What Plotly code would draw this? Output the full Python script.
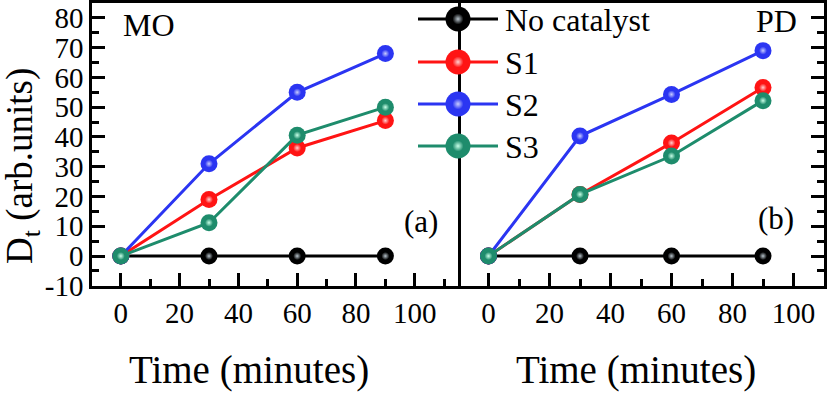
import plotly.graph_objects as go

# Data
time_min = [0, 30, 60, 90]
series_names = ["No catalyst", "S1", "S2", "S3"]
series_colors = ["#000000", "#FF1414", "#2B35F2", "#1E8C6C"]
highlight_colors = ["#B8C4CC", "#FFD0D0", "#C8CCFF", "#C8FFE8"]

mo_values = {
    "No catalyst": [0, 0, 0, 0],
    "S1": [0, 19, 36.3, 45.5],
    "S2": [0, 31, 55, 68],
    "S3": [0, 11.2, 40.6, 50],
}
pd_values = {
    "No catalyst": [0, 0, 0, 0],
    "S1": [0, 20.7, 38, 56.6],
    "S2": [0, 40.3, 54.3, 69],
    "S3": [0, 20.7, 33.6, 52.2],
}

y_tickvals = [-10, 0, 10, 20, 30, 40, 50, 60, 70, 80]
y_ticktext = ["-10", "0", "10", "20", "30", "40", "50", "60", "70", "80"]
x_tickvals = [0, 20, 40, 60, 80, 100]
x_ticktext = ["0", "20", "40", "60", "80", "100"]

FONT = "'Liberation Serif', 'Times New Roman', Times, serif"
W, H = 827, 394

fig = go.Figure()

def add_panel(values, xa, ya):
    for name, col, hl in zip(series_names, series_colors, highlight_colors):
        fig.add_trace(go.Scatter(
            x=time_min, y=values[name], xaxis=xa, yaxis=ya,
            mode="lines+markers", name=name, showlegend=False,
            line=dict(color=col, width=3),
            marker=dict(size=17, color=col, line=dict(width=0)),
            cliponaxis=False,
        ))
        # little glossy highlight on the spheres
        fig.add_trace(go.Scatter(
            x=time_min, y=values[name], xaxis=xa, yaxis=ya,
            mode="markers", showlegend=False, hoverinfo="skip",
            marker=dict(size=8, color=col, line=dict(width=0),
                        gradient=dict(type="radial", color=hl)),
            cliponaxis=False,
        ))

add_panel(mo_values, "x", "y")
add_panel(pd_values, "x2", "y2")

# hand-drawn legend on a pixel overlay (legend sits over the panel divider)
leg_y = [19, 62, 104, 146]
for name, col, hl, ly in zip(series_names, series_colors, highlight_colors, leg_y):
    fig.add_trace(go.Scatter(
        x=[418, 498], y=[ly, ly], xaxis="x3", yaxis="y3",
        mode="lines", line=dict(color=col, width=3),
        showlegend=False, hoverinfo="skip",
    ))
    fig.add_trace(go.Scatter(
        x=[458], y=[ly], xaxis="x3", yaxis="y3",
        mode="markers", showlegend=False, hoverinfo="skip",
        marker=dict(size=25, color=col, line=dict(width=0)),
    ))
    fig.add_trace(go.Scatter(
        x=[458], y=[ly], xaxis="x3", yaxis="y3",
        mode="markers", showlegend=False, hoverinfo="skip",
        marker=dict(size=11, color=col, line=dict(width=0),
                    gradient=dict(type="radial", color=hl)),
    ))

ydom = [1 - 285.8 / H, 1 - 3 / H]
tickfont = dict(family=FONT, size=29, color="black")

common_x = dict(
    tickmode="array", tickvals=x_tickvals, ticktext=x_ticktext,
    ticks="inside", ticklen=13, tickwidth=2.5, tickcolor="black",
    minor=dict(ticks="inside", ticklen=7, tickwidth=2.5, tickcolor="black",
               tickmode="linear", tick0=0, dtick=10),
    showline=True, linewidth=2.5, linecolor="black", mirror=True,
    showgrid=False, zeroline=False, tickfont=tickfont,
    ticklabelstandoff=0, automargin=False,
)
common_y = dict(
    range=[-10, 85], domain=ydom,
    tickmode="array", tickvals=y_tickvals, ticktext=y_ticktext,
    ticks="inside", ticklen=13, tickwidth=2.5, tickcolor="black",
    minor=dict(ticks="inside", ticklen=7, tickwidth=2.5, tickcolor="black",
               tickmode="linear", tick0=0, dtick=5),
    showline=True, linewidth=2.5, linecolor="black",
    showgrid=False, zeroline=False, tickfont=tickfont, automargin=False,
)

fig.update_layout(
    width=W, height=H,
    margin=dict(l=0, r=0, t=0, b=0, autoexpand=False),
    paper_bgcolor="white", plot_bgcolor="rgba(0,0,0,0)",
    showlegend=False,
    font=dict(family=FONT, color="black"),
    xaxis=dict(common_x, range=[-9.8, 114.7], domain=[92 / W, 458 / W], anchor="y"),
    yaxis=dict(common_y, anchor="x", mirror=True, ticklabelstandoff=0),
    xaxis2=dict(common_x, range=[-10, 110], domain=[458 / W, 824 / W], anchor="y2"),
    yaxis2=dict(common_y, anchor="x2", side="right", mirror=False, showticklabels=False),
    xaxis3=dict(range=[0, W], domain=[0, 1], visible=False, anchor="y3",
                fixedrange=True, automargin=False),
    yaxis3=dict(range=[H, 0], domain=[0, 1], visible=False, anchor="x3",
                fixedrange=True, automargin=False),
)

def label(text, x, y, size, xanchor="center", angle=0):
    fig.add_annotation(
        text=text, x=x, y=y, xref="x3", yref="y3", showarrow=False,
        xanchor=xanchor, yanchor="middle", textangle=angle,
        font=dict(family=FONT, size=size, color="black"),
    )

for name, ly in zip(series_names, leg_y):
    label(name, 503, ly + 1, 32, xanchor="left")

label("MO", 121, 25, 32, xanchor="left")
label("PD", 799, 21, 32, xanchor="right")
label("(a)", 421, 221, 31)
label("(b)", 776, 218, 31)
label("Time (minutes)", 249, 370, 39)
label("Time (minutes)", 636, 370, 39)
label("D<sub>t</sub> (arb.units)", 22, 166, 37, angle=-90)

# the page body has a default 8px margin; drop it so the figure sits at (0, 0)
fig.write_html(
    "out.html",
    config={"displayModeBar": False},
    post_script="document.body.style.margin='0';document.body.style.overflow='hidden';",
)
